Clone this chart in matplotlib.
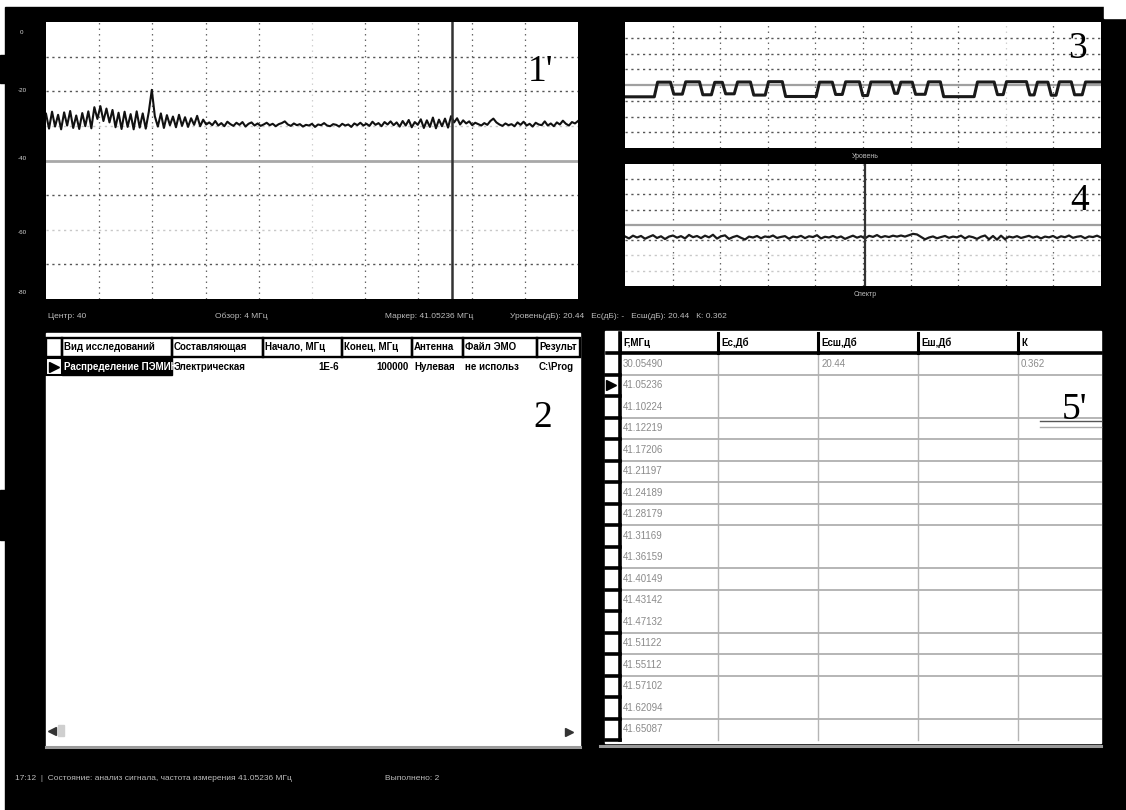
import matplotlib
matplotlib.use("Agg")
import numpy as np
import matplotlib.pyplot as plt
from matplotlib.patches import Rectangle

plt.rcParams['font.family'] = ['Liberation Sans', 'DejaVu Sans']

W, H = 1126, 810

# ---------------- data ----------------
# Panel 1': spectrum, frequency span 38..42 MHz, level in dB
spec_f_start = 38.0
spec_f_stop = 42.0
spec_db = [
    -26.5, -30.8, -25.9, -30.2, -26.8, -31.0, -26.1, -29.9, -25.7, -30.6,
    -27.0, -30.9, -26.3, -30.1, -25.8, -30.7,
    -24.6, -28.0, -24.3, -28.6, -25.0, -29.0, -25.4,
    -30.4, -26.2, -30.9, -25.9, -30.3, -26.6, -31.0, -25.8, -30.5, -26.4,
    -30.8, -26.0,
    -19.6,
    -27.2, -30.2, -26.4, -30.6, -26.9, -29.8, -27.3, -30.4, -26.8, -30.0,
    -27.5, -30.3, -27.8, -29.7, -27.1, -30.1, -28.2, -29.6,
    -29.0, -29.8, -28.6, -29.9, -29.2, -30.1, -28.8, -29.5, -30.0, -29.1,
    -29.7, -28.9, -30.2, -29.4, -29.0, -29.9, -29.3, -30.0, -29.6, -29.1,
    -29.8, -29.4, -30.1, -29.5, -29.2, -28.7, -29.6, -30.0, -29.3, -29.8,
    -29.5, -30.2, -29.7, -29.9, -29.4, -30.3, -29.6, -29.8, -29.2, -29.9,
    -30.1, -29.5, -29.7, -30.2, -29.4, -29.9, -29.6, -30.3, -29.3, -29.8,
    -29.1, -29.9, -29.4, -30.0, -28.8, -29.7, -29.2, -30.1, -28.9, -29.6,
    -28.7, -29.8, -29.0, -30.2, -28.6, -29.9, -28.3, -30.4, -28.9, -29.7,
    -28.1, -30.6, -28.4, -30.3, -27.6, -30.7, -28.2, -30.1, -27.9, -30.5,
    -27.2, -29.0, -27.8, -29.6, -28.4, -29.3, -28.7, -29.8, -29.1, -29.5,
    -29.9, -29.2, -29.7, -28.6, -27.9, -29.0, -29.6, -30.0, -29.3, -29.8,
    -29.5, -30.1, -29.0, -29.7, -28.8, -29.9, -29.4, -30.2, -29.1, -29.6,
    -29.8, -28.7, -29.9, -29.3, -30.1, -29.0, -29.6, -28.5, -29.4, -29.9,
    -28.9, -29.3, -28.6,
]
spec_ymin, spec_ymax = -80, 0
spec_ytick_labels = ["0", "-20", "-40", "-60", "-80"]
marker_mhz = 41.05236
center_mhz = 40
span_mhz = 4

# Panel 3: pulse train (screen divisions)
pulse_edges = [0, 0.65, 0.99, 1.24, 1.60, 1.85, 2.08, 2.33, 2.67, 2.98, 3.34,
               4.05, 4.39, 4.60, 4.96, 5.13, 5.63, 5.76, 6.07, 6.34, 6.66,
               7.37, 7.79, 7.98, 8.47, 8.63, 8.92, 9.09, 9.41, 9.64, 10.0]
pulse_levels = [3.25, 4.18, 3.42, 4.20, 3.38, 4.17, 3.44, 4.19, 3.36, 4.21,
                3.27, 4.18, 3.40, 4.20, 3.33, 4.19, 3.47, 4.18, 3.41, 4.20,
                3.26, 4.19, 3.39, 4.21, 3.37, 4.18, 3.35, 4.20, 3.38, 4.19]

# Panel 4: noise trace (screen divisions)
trace4 = [
    3.25, 3.12, 3.30, 3.18, 3.28, 3.10, 3.22, 3.33, 3.15, 3.26,
    3.08, 3.24, 3.31, 3.17, 3.27, 3.12, 3.35, 3.20, 3.28, 3.14,
    3.30, 3.19, 3.36, 3.11, 3.26, 3.32, 3.09, 3.21, 3.29, 3.16,
    3.05, 3.24, 3.18, 3.28, 3.13, 3.25, 3.20, 3.31, 3.15, 3.22,
    3.27, 3.10, 3.24, 3.19, 3.29, 3.14, 3.26, 3.21, 3.33, 3.12,
    3.23, 3.18, 3.28, 3.16, 3.25, 3.09, 3.20, 3.30, 3.17, 3.26,
    3.12, 3.29, 3.22, 3.34, 3.19, 3.27, 3.21, 3.30, 3.24, 3.31,
    3.24, 3.33, 3.42, 3.38, 3.22, 3.06, 3.18, 3.25, 3.13, 3.21,
    3.28, 3.16, 3.24, 3.19, 3.30, 3.12, 3.26, 3.20, 3.09, 3.23,
    3.31, 3.06, 3.28, 3.04, 3.30, 3.07, 3.24, 3.18, 3.27, 3.15,
    3.22, 3.29, 3.17, 3.25, 3.12, 3.24, 3.19, 3.28, 3.14, 3.26,
    3.20, 3.31, 3.16, 3.23, 3.27, 3.13, 3.25, 3.21, 3.30, 3.18,
]
cursor4 = 5.04

# Table 2
t2_headers = ["Вид исследований", "Составляющая", "Начало, МГц", "Конец, МГц",
              "Антенна", "Файл ЭМО", "Результ"]
t2_values = ["Распределение ПЭМИН", "Электрическая", "1E-6", "100000",
             "Нулевая", "не использ", "C:\\Prog"]
t2_right = [False, False, True, True, False, False, False]

# Table 5
t5_headers = ["F,МГц", "Ес,Дб", "Есш,Дб", "Еш,Дб", "К"]
t5_freq = ["30.05490", "41.05236", "41.10224", "41.12219", "41.17206",
           "41.21197", "41.24189", "41.28179", "41.31169", "41.36159",
           "41.40149", "41.43142", "41.47132", "41.51122", "41.55112",
           "41.57102", "41.62094", "41.65087"]
t5_esh = ["20.44"] + [""] * 17
t5_k = ["0.362"] + [""] * 17

status_main = "17:12  |  Состояние: анализ сигнала, частота измерения 41.05236 МГц"
status_done = "Выполнено: 2"

# ---------------- figure ----------------
fig = plt.figure(figsize=(W / 100, H / 100), dpi=100, facecolor='white')


def px_axes(x0, y0, x1, y1):
    return fig.add_axes([x0 / W, 1 - y1 / H, (x1 - x0) / W, (y1 - y0) / H])


bg = fig.add_axes([0, 0, 1, 1])
bg.set_xlim(0, W)
bg.set_ylim(H, 0)
bg.axis('off')

bg.add_patch(Rectangle((5, 7), W - 5, H - 7, color='black', zorder=0))
bg.add_patch(Rectangle((0, 55), 6, 28, color='black', zorder=0))
bg.add_patch(Rectangle((0, 490), 6, 50, color='black', zorder=0))
bg.add_patch(Rectangle((1104, 0), 22, 18, color='white', zorder=0))

GRID_DARK = dict(color='#555555', lw=1.0, ls=(0, (1.6, 2.6)))
GRID_LIGHT = dict(color='#c8c8c8', lw=1.0, ls=(0, (1.6, 2.6)))
VGRID = dict(color='#666666', lw=0.9, ls=(0, (1.2, 3.2)))
VGRID_LIGHT = dict(color='#d0d0d0', lw=0.9, ls=(0, (1.2, 3.2)))


def style_plot(ax):
    ax.set_facecolor('white')
    ax.set_xticks([])
    ax.set_yticks([])
    for s in ax.spines.values():
        s.set_visible(False)


# ---- panel 1' ----
ax1 = px_axes(46, 22, 578, 299)
style_plot(ax1)
f = np.linspace(spec_f_start, spec_f_stop, len(spec_db))
ax1.set_xlim(spec_f_start, spec_f_stop)
ax1.set_ylim(spec_ymin, spec_ymax)
step_f = span_mhz / 10
for i in range(1, 10):
    ax1.axvline(spec_f_start + i * step_f, **(VGRID_LIGHT if i == 5 else VGRID), zorder=1)
for i in range(1, 8):
    yv = spec_ymax - i * 10
    if i == 4:
        ax1.axhline(yv, color='#a8a8a8', lw=2.0, zorder=1)
    else:
        ax1.axhline(yv, **(GRID_LIGHT if i in (3, 6) else GRID_DARK), zorder=1)
ax1.plot(f, spec_db, color='#111111', lw=1.5, zorder=3)
ax1.axvline(marker_mhz, color='#333333', lw=1.8, zorder=4)
ax1.text(0.93, 0.82, "1'", transform=ax1.transAxes, family='Liberation Serif',
         fontsize=27, ha='center', va='center', color='black')

for lab, yy in zip(spec_ytick_labels, [32, 90, 159, 233, 293]):
    bg.text(22, yy, lab, color='#d8d8d8', fontsize=4.5, ha='center', va='center')

bg.text(48, 316, "Центр: %d" % center_mhz, color='#bdbdbd', fontsize=6, va='center')
bg.text(215, 316, "Обзор: %d МГц" % span_mhz, color='#bdbdbd', fontsize=6, va='center')
bg.text(385, 316, "Маркер: %.5f МГц" % marker_mhz, color='#bdbdbd', fontsize=6, va='center')
bg.text(510, 316, "Уровень(дБ): 20.44   Ес(дБ): -   Есш(дБ): 20.44   К: 0.362",
        color='#bdbdbd', fontsize=6, va='center')

# ---- panel 3 ----
ax3 = px_axes(625, 22, 1101, 148)
style_plot(ax3)
ax3.set_xlim(0, 10)
ax3.set_ylim(0, 8)
for i in range(1, 10):
    ax3.axvline(i, **(VGRID_LIGHT if i == 8 else VGRID), zorder=1)
for i in range(1, 8):
    if i == 4:
        ax3.axhline(i, color='#a0a0a0', lw=1.6, zorder=1)
    else:
        ax3.axhline(i, **GRID_DARK, zorder=1)
ramp = 0.035
xs, ys = [], []
for a, b, lev in zip(pulse_edges[:-1], pulse_edges[1:], pulse_levels):
    xs += [a + (ramp if a > 0 else 0), b - (ramp if b < 10 else 0)]
    ys += [lev, lev]
ax3.plot(xs, ys, color='#1a1a1a', lw=2.2, zorder=3, solid_joinstyle='round')
ax3.text(0.95, 0.79, "3", transform=ax3.transAxes, family='Liberation Serif',
         fontsize=27, ha='center', va='center', color='black')
bg.text(865, 157, "Уровень", color='#bdbdbd', fontsize=5, ha='center', va='center')

# ---- panel 4 ----
ax4 = px_axes(625, 164, 1101, 286)
style_plot(ax4)
ax4.set_xlim(0, 10)
ax4.set_ylim(0, 8)
for i in range(1, 10):
    ax4.axvline(i, **VGRID, zorder=1)
for i in range(1, 8):
    if i == 4:
        ax4.axhline(i, color='#a0a0a0', lw=1.6, zorder=1)
    else:
        ax4.axhline(i, **(GRID_LIGHT if i in (1, 2) else GRID_DARK), zorder=1)
ax4.plot(np.linspace(0, 10, len(trace4)), trace4, color='#1a1a1a', lw=1.6, zorder=3)
ax4.axvline(cursor4, color='#333333', lw=1.6, zorder=4)
ax4.text(0.955, 0.70, "4", transform=ax4.transAxes, family='Liberation Serif',
         fontsize=27, ha='center', va='center', color='black')
bg.text(865, 294, "Спектр", color='#bdbdbd', fontsize=5, ha='center', va='center')

# ---- table 2 ----
bg.add_patch(Rectangle((46, 333), 534, 413, color='white', zorder=1))
bg.plot([46, 580], [747, 747], color='#9a9a9a', lw=2.2, zorder=2)
c2 = [46, 62, 172, 263, 342, 412, 463, 537, 580]
for i in range(len(c2) - 1):
    bg.add_patch(Rectangle((c2[i], 338), c2[i + 1] - c2[i], 19, fill=False,
                           ec='black', lw=1.7, zorder=3))
for i, h in enumerate(t2_headers):
    t = bg.text(c2[i + 1] + 2, 347.5, h, fontsize=7, fontweight='bold',
                ha='left', va='center', color='black', zorder=4)
    clip = Rectangle((c2[i + 1], 338), c2[i + 2] - c2[i + 1] - 1, 19, transform=bg.transData)
    t.set_clip_path(clip)
bg.add_patch(Rectangle((46, 358), 16, 17, fill=False, ec='black', lw=1.5, zorder=3))
bg.plot([54], [366.5], marker='>', ms=7, color='black', zorder=4)
bg.add_patch(Rectangle((62, 358), 110, 17, color='black', zorder=3))
for i, v in enumerate(t2_values):
    x0, x1 = c2[i + 1], c2[i + 2]
    col = 'white' if i == 0 else 'black'
    if t2_right[i]:
        t = bg.text(x1 - 3, 366.5, v, fontsize=7, fontweight='bold', ha='right',
                    va='center', color=col, zorder=4)
    else:
        t = bg.text(x0 + 2, 366.5, v, fontsize=7, fontweight='bold', ha='left',
                    va='center', color=col, zorder=4)
    clip = Rectangle((x0, 358), x1 - x0 - 1, 17, transform=bg.transData)
    t.set_clip_path(clip)
bg.plot([52], [731], marker='<', ms=6, color='#333333', zorder=4)
bg.add_patch(Rectangle((58, 725), 6, 11, color='#cfcfcf', zorder=3))
bg.plot([569], [732], marker='>', ms=6, color='#333333', zorder=4)
bg.text(543, 418, "2", family='Liberation Serif', fontsize=27,
        ha='center', va='center', color='black', zorder=4)

# ---- table 5 ----
bg.add_patch(Rectangle((605, 331), 496, 412, color='white', zorder=1))
bg.plot([600, 1101], [746, 746], color='#9a9a9a', lw=2.2, zorder=2)
c5 = [620, 718, 818, 918, 1018, 1101]
top5, head5, row_h = 333, 353, 21.5
nrows = len(t5_freq)
bottom5 = head5 + row_h * nrows
for i, h in enumerate(t5_headers):
    bg.plot([c5[i], c5[i]], [top5, head5], color='black', lw=2.2, zorder=3)
    bg.text(c5[i] + 3, 343, h, fontsize=7, fontweight='bold', ha='left',
            va='center', color='black', zorder=4)
bg.plot([607, 1101], [head5, head5], color='black', lw=2.6, zorder=3)
bg.plot([620, 620], [top5, bottom5], color='black', lw=2.6, zorder=3)
for x in c5[1:-1]:
    bg.plot([x, x], [head5, bottom5], color='#b5b5b5', lw=1.0, zorder=2)
merged = {2, 9, 12, 16}
for i in range(1, nrows + 1):
    yb = head5 + row_h * i
    if i not in merged and i < nrows:
        bg.plot([621, 1101], [yb, yb], color='#b0b0b0', lw=1.3, zorder=2)
    bg.plot([606, 620], [yb, yb], color='black', lw=2.6, zorder=3)
for i in range(nrows):
    yc = head5 + row_h * (i + 0.5)
    bg.text(623, yc, t5_freq[i], fontsize=7, color='#8a8a8a', ha='left', va='center', zorder=4)
    if t5_esh[i]:
        bg.text(822, yc, t5_esh[i], fontsize=7, color='#8a8a8a', ha='left', va='center', zorder=4)
    if t5_k[i]:
        bg.text(1021, yc, t5_k[i], fontsize=7, color='#8a8a8a', ha='left', va='center', zorder=4)
bg.plot([611], [head5 + row_h * 1.5], marker='>', ms=7, color='black', zorder=4)
bg.text(1075, 410, "5'", family='Liberation Serif', fontsize=27,
        ha='center', va='center', color='black', zorder=4)
bg.plot([1040, 1101], [421, 421], color='#555555', lw=1.0, zorder=4)
bg.plot([1040, 1101], [427, 427], color='#aaaaaa', lw=1.0, zorder=4)

# ---- status bar ----
bg.text(15, 778, status_main, color='#bdbdbd', fontsize=6, va='center')
bg.text(385, 778, status_done, color='#bdbdbd', fontsize=6, va='center')

fig.savefig('out.png', dpi=100, facecolor='white')
